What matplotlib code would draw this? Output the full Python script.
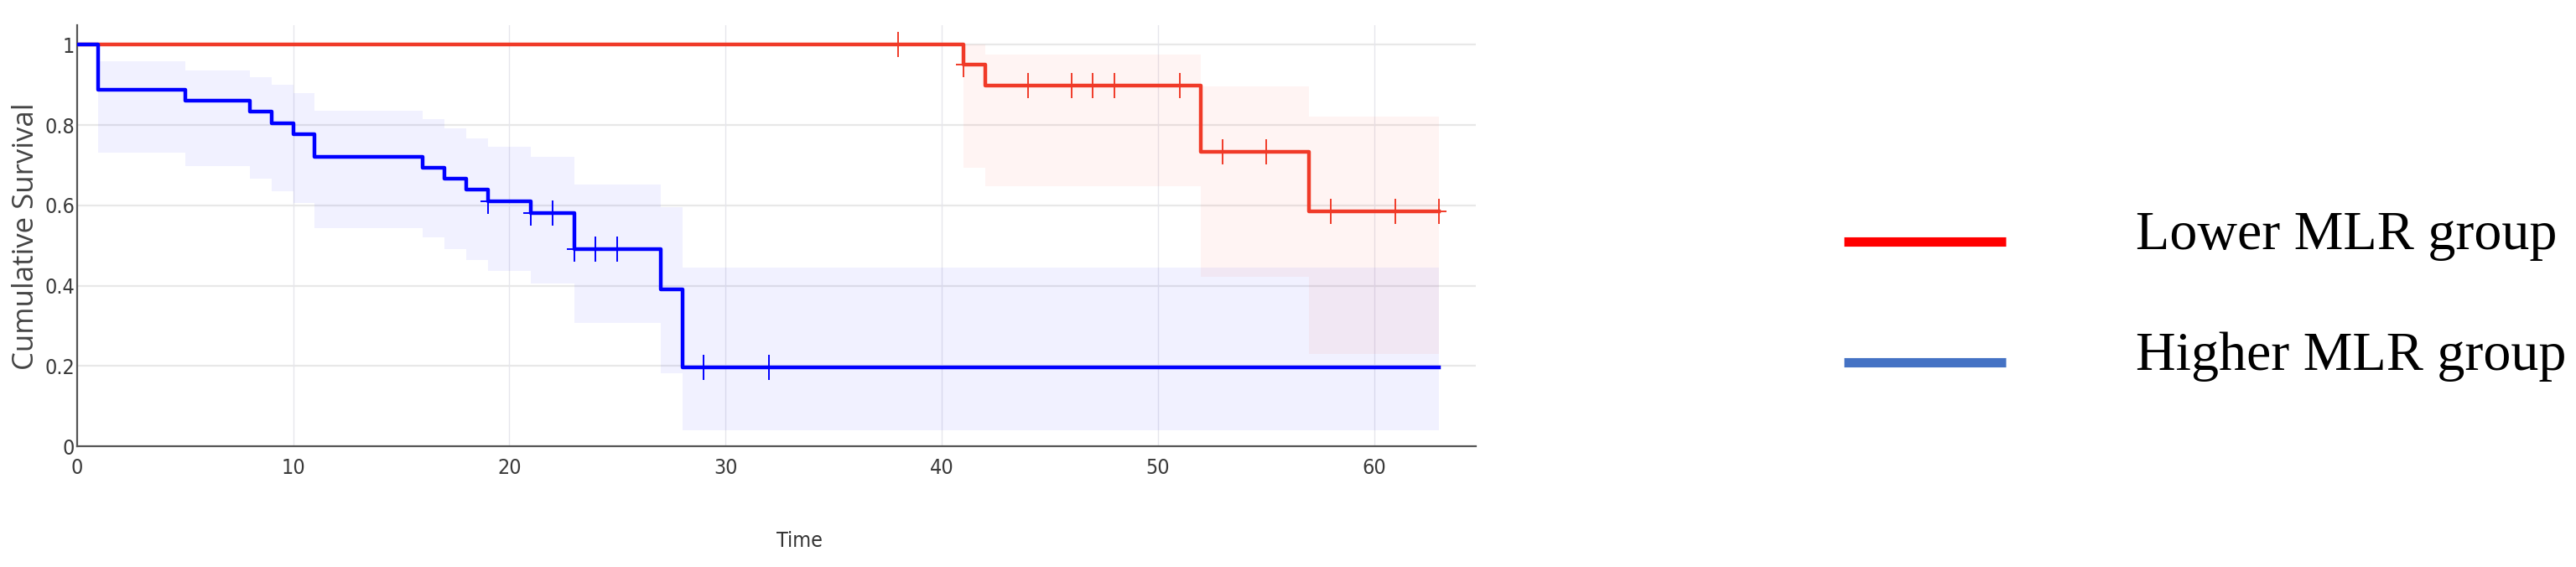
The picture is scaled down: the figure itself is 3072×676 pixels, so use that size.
import matplotlib

matplotlib.use("Agg")
import matplotlib.pyplot as plt
import numpy as np
from matplotlib import font_manager
from matplotlib.lines import Line2D
from matplotlib.path import Path

# Kaplan-Meier curves
red_t = [0, 41, 42, 52, 57, 63]
red_s = [1.0, 0.950, 0.898, 0.733, 0.586, 0.586]
red_ci_t = [41, 42, 52, 57, 63]
red_hi = [1.0, 0.976, 0.896, 0.822, 0.822]
red_lo = [0.694, 0.648, 0.422, 0.230, 0.230]
red_censor = [38, 41, 44, 46, 47, 48, 51, 53, 55, 58, 61, 63]

blue_t = [0, 1, 5, 8, 9, 10, 11, 16, 17, 18, 19, 21, 23, 27, 28, 63]
blue_s = [1.0, 0.889, 0.860, 0.833, 0.805, 0.777, 0.721, 0.694, 0.666, 0.639,
          0.611, 0.581, 0.492, 0.391, 0.197, 0.197]
blue_ci_t = [1, 5, 8, 9, 10, 11, 16, 17, 18, 19, 21, 23, 27, 28, 63]
blue_hi = [0.958, 0.937, 0.920, 0.900, 0.880, 0.836, 0.815, 0.791, 0.767,
           0.746, 0.720, 0.652, 0.596, 0.446, 0.446]
blue_lo = [0.732, 0.697, 0.666, 0.636, 0.606, 0.544, 0.521, 0.492, 0.464,
           0.437, 0.405, 0.307, 0.182, 0.039, 0.039]
blue_censor = [19, 21, 22, 23, 24, 25, 29, 32]

x_ticks = [0, 10, 20, 30, 40, 50, 60]
y_ticks = [0, 0.2, 0.4, 0.6, 0.8, 1.0]
y_tick_labels = ["0", "0.2", "0.4", "0.6", "0.8", "1"]
legend_labels = ["Lower MLR group", "Higher MLR group"]

RED = "#f03a28"
BLUE = "#0000ff"

# narrow font for the squeezed-looking tick labels, if one is around
_fonts = font_manager.fontManager.ttflist
if any(f.name == "Liberation Sans Narrow" for f in _fonts):
    tick_font = {"family": "Liberation Sans Narrow", "size": 20}
elif any(f.name == "DejaVu Sans" and str(f.stretch) == "condensed" for f in _fonts):
    tick_font = {"family": "DejaVu Sans", "stretch": "condensed", "size": 18}
else:
    tick_font = {"family": "Open Sans", "size": 17.5}


def step_value(ts, ss, x):
    idx = np.searchsorted(ts, x, side="right") - 1
    return np.asarray(ss)[idx]


# thin "+" censor mark, taller than wide
cross = Path(
    [(-0.6, 0), (0.6, 0), (0, -1), (0, 1)],
    [Path.MOVETO, Path.LINETO, Path.MOVETO, Path.LINETO],
)

fig = plt.figure(figsize=(30.72, 6.76), dpi=100)
ax = fig.add_axes([0.02985, 0.213, 0.5430, 0.742])

ax.fill_between(blue_ci_t, blue_lo, blue_hi, step="post",
                color=BLUE, alpha=0.055, linewidth=0)
ax.fill_between(red_ci_t, red_lo, red_hi, step="post",
                color="#ff3c28", alpha=0.055, linewidth=0)

ax.step(red_t, red_s, where="post", color=RED, linewidth=3.2, zorder=4)
ax.step(blue_t, blue_s, where="post", color=BLUE, linewidth=3.2, zorder=4)

ax.plot(red_censor, step_value(red_t, red_s, red_censor), linestyle="none",
        marker=cross, markersize=21, markeredgewidth=1.4,
        markeredgecolor=RED, zorder=5)
ax.plot(blue_censor, step_value(blue_t, blue_s, blue_censor), linestyle="none",
        marker=cross, markersize=21, markeredgewidth=1.4,
        markeredgecolor=BLUE, zorder=5)

ax.set_xlim(0, 64.7)
ax.set_ylim(0, 1.048)
ax.set_xticks(x_ticks)
ax.set_xticklabels([str(v) for v in x_ticks], fontdict=tick_font, color="#3a3a3a")
ax.set_yticks(y_ticks)
ax.set_yticklabels(y_tick_labels, fontdict=tick_font, color="#3a3a3a")
ax.tick_params(axis="x", length=0, pad=10)
ax.tick_params(axis="y", length=0, pad=2)

for v in y_ticks[1:]:
    ax.axhline(v, color="#e8e8e8", linewidth=1.6, zorder=0)
for v in x_ticks[1:]:
    ax.axvline(v, color="#e6e6ec", linewidth=1.0, zorder=0)

for side in ("top", "right"):
    ax.spines[side].set_visible(False)
for side in ("left", "bottom"):
    ax.spines[side].set_color("#555555")
    ax.spines[side].set_linewidth(1.6)

fig.text(0.0101, 0.583, "Cumulative Survival", rotation=90, ha="center",
         va="center", family="Open Sans", fontsize=25, color="#444444")
fig.text(953 / 3072, 0.036, "Time", ha="center", va="baseline",
         color="#333333", **tick_font)

# legend drawn by hand to the right of the plot
for y_line, y_text, col, label in [
    (0.5735, 0.5611, "#ff0000", legend_labels[0]),
    (0.3614, 0.3481, "#4472c4", legend_labels[1]),
]:
    fig.add_artist(Line2D([0.7158, 0.7786], [y_line, y_line], color=col,
                          linewidth=8, solid_capstyle="butt",
                          transform=fig.transFigure))
    fig.text(0.8291, y_text, label, ha="left", va="baseline",
             family="Liberation Serif", fontsize=47.5, color="black")

fig.savefig("out.png", dpi=100)
